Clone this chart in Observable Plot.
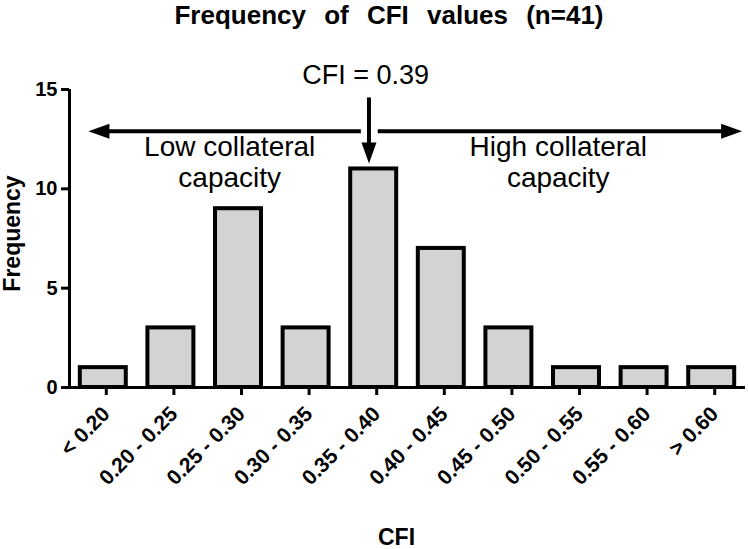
<!DOCTYPE html>
<html><head><meta charset="utf-8">
<script src="https://cdn.jsdelivr.net/npm/d3@7"></script>
<script src="https://cdn.jsdelivr.net/npm/@observablehq/plot@0.6"></script>
<style>
body{margin:0;background:#fff;}
#title{width:748px;height:40px;box-sizing:border-box;padding-left:30px;text-align:center;font-family:"Liberation Sans",Arial,sans-serif;font-weight:bold;font-size:26px;line-height:30px;word-spacing:11px;color:#000;white-space:nowrap;}
</style></head><body>
<div id="title"></div><div id="chart"></div>
<script>
const titleText = "Frequency of CFI values (n=41)";
const categories = ["< 0.20","0.20 - 0.25","0.25 - 0.30","0.30 - 0.35","0.35 - 0.40","0.40 - 0.45","0.45 - 0.50","0.50 - 0.55","0.55 - 0.60","> 0.60"];
const counts = [1,3,9,3,11,7,3,1,1,1];
const yTicks = [0,5,10,15];
const xLabel = "CFI";
const yLabel = "Frequency";
// annotations (x in category-index units, y in frequency units)
const cutoffLabel = ["CFI = 0.39"];
const cutoffLabelX = [3.88];
const cutoffLabelY = [15.3];
const cutoffArrowX = [3.93];
const cutoffArrowY1 = [14.6];
const cutoffArrowY2 = [11.27];
const rangeArrowX1 = [3.81, 4.06];
const rangeArrowX2 = [-0.22, 9.45];
const rangeArrowY = [12.9, 12.9];
const groupLabels = ["Low collateral\ncapacity", "High collateral\ncapacity"];
const groupX = [1.87, 6.73];
const groupY = [12.73, 12.73];

document.getElementById("title").textContent = titleText;

const data = categories.map((c, i) => ({i, c, n: counts[i]}));
const headSymbol = {draw(ctx) { ctx.moveTo(0, 0); ctx.lineTo(-21, -7.5); ctx.lineTo(-21, 7.5); ctx.closePath(); }};
const heads = [
  {x: rangeArrowX2[0], y: rangeArrowY[0], r: 180},
  {x: rangeArrowX2[1], y: rangeArrowY[1], r: 0},
  {x: cutoffArrowX[0], y: cutoffArrowY2[0], r: 90}
];
const ranges = rangeArrowX1.map((x1, k) => ({x1, x2: rangeArrowX2[k], y: rangeArrowY[k]}));
const cutoff = cutoffArrowX.map((x, k) => ({x, y1: cutoffArrowY1[k], y2: cutoffArrowY2[k]}));

const chart = Plot.plot({
  width: 748, height: 509,
  marginLeft: 69, marginRight: 3, marginTop: 49, marginBottom: 162,
  style: {fontFamily: "Liberation Sans, Arial, sans-serif", fontSize: "20px", fontWeight: "bold", color: "#000", background: "#fff", overflow: "visible"},
  x: {type: "linear", domain: [-0.5, categories.length - 0.5]},
  y: {domain: [0, 15]},
  marks: [
    Plot.rectY(data, {x1: d => d.i - 0.34, x2: d => d.i + 0.34, y: "n", fill: "#d3d3d3", stroke: "#000", strokeWidth: 4}),
    Plot.ruleX([-0.5], {y1: 0, y2: 15, strokeWidth: 3}),
    Plot.ruleY([0], {strokeWidth: 3}),
    Plot.axisY({ticks: yTicks, tickSize: 8, tickPadding: 4, strokeWidth: 3, fontSize: 20, fontWeight: "bold", label: null}),
    Plot.axisX({ticks: d3.range(categories.length), tickFormat: i => categories[i], tickRotate: -45, tickSize: 8, tickPadding: 15, dx: 3, strokeWidth: 3, fontSize: 21, fontWeight: "bold", label: null}),
    Plot.arrow(ranges, {x1: "x1", x2: "x2", y1: "y", y2: "y", headLength: 0, insetEnd: 19, strokeWidth: 4, strokeLinecap: "butt"}),
    Plot.arrow(cutoff, {x1: "x", x2: "x", y1: "y1", y2: "y2", headLength: 0, insetEnd: 19, strokeWidth: 4, strokeLinecap: "butt"}),
    Plot.dot(heads, {x: "x", y: "y", rotate: "r", symbol: headSymbol, fill: "#000", stroke: null}),
    Plot.text(cutoffLabel, {x: cutoffLabelX, y: cutoffLabelY, fontSize: 27, fontWeight: "normal", lineAnchor: "bottom"}),
    Plot.text(groupLabels, {x: groupX, y: groupY, fontSize: 28, fontWeight: "normal", lineAnchor: "top", lineHeight: 1.1}),
    Plot.text([yLabel], {frameAnchor: "left", textAnchor: "middle", rotate: -90, dx: -57, dy: -5, fontSize: 23, fontWeight: "bold"}),
    Plot.text([xLabel], {frameAnchor: "bottom", textAnchor: "middle", lineAnchor: "bottom", dx: -11, dy: 157, fontSize: 23, fontWeight: "bold"})
  ]
});
document.getElementById("chart").appendChild(chart);
</script>
</body></html>
